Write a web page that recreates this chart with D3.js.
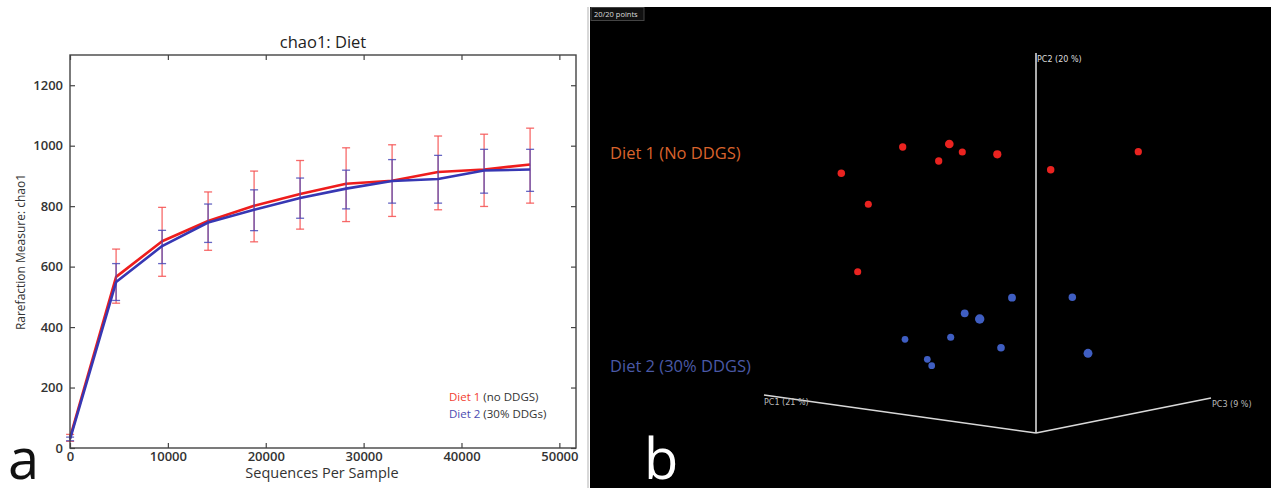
<!DOCTYPE html>
<html><head><meta charset="utf-8">
<script src="https://cdn.jsdelivr.net/npm/d3@7"></script>
<style>body{margin:0;background:#fff}svg{display:block}</style>
</head><body>
<svg id="c" width="1271" height="488"></svg>
<script>
// ---- Panel a: rarefaction (chao1) ----
const seqPerSample = [10, 4710, 9410, 14110, 18810, 23510, 28210, 32910, 37610, 42310, 47010];
const diet1Mean  = [35, 566, 684, 751, 801, 840, 874, 884, 913, 921, 938];
const diet1Upper = [45, 658, 796, 847, 916, 951, 993, 1003, 1032, 1038, 1058];
const diet1Lower = [22, 479, 568, 654, 682, 724, 749, 766, 788, 799, 810];
const diet2Mean  = [30, 549, 668, 746, 788, 827, 858, 883, 890, 918, 921];
const diet2Upper = [36, 610, 720, 807, 854, 893, 919, 954, 968, 988, 988];
const diet2Lower = [24, 488, 610, 680, 719, 760, 791, 810, 810, 843, 849];
const xTicks = [0, 10000, 20000, 30000, 40000, 50000];
const yTicks = [0, 200, 400, 600, 800, 1000, 1200];
const legendNames = ["Diet 1", "Diet 2"];
const legendNotes = [" (no DDGS)", " (30% DDGs)"];

// ---- Panel b: PCoA (projected screen units) ----
const diet1PCx = [-1.333, -1.947, -1.677, -0.867, -0.737, -0.973, -0.387, 0.147, 1.023, -1.783];
const diet1PCy = [2.86, 2.597, 2.287, 2.89, 2.81, 2.72, 2.787, 2.633, 2.813, 1.613];
const diet1Depth = [0.35, 0.4, 0.3, 0.75, 0.3, 0.35, 0.6, 0.4, 0.35, 0.3];
const diet2PCx = [-1.31, -1.087, -1.043, -0.853, -0.713, -0.563, -0.35, -0.24, 0.363, 0.52];
const diet2PCy = [0.937, 0.737, 0.673, 0.957, 1.197, 1.14, 0.853, 1.353, 1.357, 0.797];
const diet2Depth = [0.2, 0.2, 0.2, 0.3, 0.5, 0.95, 0.45, 0.5, 0.4, 0.8];
const pcAxisNames = ["PC1 (21 %)", "PC2 (20 %)", "PC3 (9 %)"];
const pcAxisEndX = [-2.72, 0, 1.75];
const pcAxisEndY = [0.38, 3.80, 0.35];
const groupLabels = ["Diet 1 (No DDGS)", "Diet 2 (30% DDGS)"];
const groupLabelY = [2.80, 0.67];

const svg = d3.select("#c");

// ===== Panel a =====
const L = {left: 70, right: 576, top: 55, bottom: 448};
const x = d3.scaleLinear().domain([0, 51700]).range([L.left, L.right]);
const y = d3.scaleLinear().domain([0, 1300]).range([L.bottom, L.top]);
const ga = svg.append("g");

ga.append("rect").attr("x", L.left).attr("y", L.top)
  .attr("width", L.right - L.left).attr("height", L.bottom - L.top)
  .attr("fill", "#fff");

const fontA = "'Open Sans', sans-serif";
function styleAxis(g, hideLabels) {
  g.select(".domain").remove();
  g.selectAll(".tick line").attr("stroke", "#444").attr("stroke-width", 1.2);
  g.selectAll(".tick text").attr("fill", "#333").attr("font-family", fontA)
    .attr("font-size", 13).attr("font-weight", 600);
  if (hideLabels) g.selectAll(".tick text").remove();
}
ga.append("g").attr("transform", `translate(0,${L.bottom})`)
  .call(d3.axisBottom(x).tickValues(xTicks).tickFormat(d3.format("d")).tickSizeInner(-5).tickPadding(4))
  .call(g => styleAxis(g, false));
ga.append("g").attr("transform", `translate(0,${L.top})`)
  .call(d3.axisTop(x).tickValues(xTicks).tickSizeInner(-5))
  .call(g => styleAxis(g, true));
ga.append("g").attr("transform", `translate(${L.left},0)`)
  .call(d3.axisLeft(y).tickValues(yTicks).tickFormat(d3.format("d")).tickSizeInner(-5).tickPadding(7))
  .call(g => styleAxis(g, false));
ga.append("g").attr("transform", `translate(${L.right},0)`)
  .call(d3.axisRight(y).tickValues(yTicks).tickSizeInner(-5))
  .call(g => styleAxis(g, true));

function series(mean, lo, hi, lineColor, errColor) {
  const pts = seqPerSample.map((s, i) => ({s, m: mean[i], lo: lo[i], hi: hi[i]}));
  const eg = ga.append("g").attr("stroke", errColor).attr("stroke-width", 1.3).attr("fill", "none");
  pts.forEach(p => {
    eg.append("line").attr("x1", x(p.s)).attr("x2", x(p.s)).attr("y1", y(p.lo)).attr("y2", y(p.hi));
    eg.append("line").attr("x1", x(p.s) - 4).attr("x2", x(p.s) + 4).attr("y1", y(p.lo)).attr("y2", y(p.lo));
    eg.append("line").attr("x1", x(p.s) - 4).attr("x2", x(p.s) + 4).attr("y1", y(p.hi)).attr("y2", y(p.hi));
  });
  ga.append("path").datum(pts)
    .attr("d", d3.line().x(p => x(p.s)).y(p => y(p.m)))
    .attr("fill", "none").attr("stroke", lineColor).attr("stroke-width", 2.6)
    .attr("stroke-linejoin", "round");
}
series(diet1Mean, diet1Lower, diet1Upper, "#ee1d1d", "rgba(245,80,80,0.85)");
series(diet2Mean, diet2Lower, diet2Upper, "#3737b3", "rgba(75,75,185,0.85)");

ga.append("rect").attr("x", L.left).attr("y", L.top)
  .attr("width", L.right - L.left).attr("height", L.bottom - L.top)
  .attr("fill", "none").attr("stroke", "#444").attr("stroke-width", 1.4);

ga.append("text").attr("x", (L.left + L.right) / 2).attr("y", 48)
  .attr("text-anchor", "middle").attr("font-family", fontA).attr("font-size", 16.5)
  .attr("fill", "#222").text("chao1: Diet");
ga.append("text").attr("transform", `translate(25,252) rotate(-90)`)
  .attr("text-anchor", "middle").attr("font-family", fontA).attr("font-size", 12)
  .attr("fill", "#333").text("Rarefaction Measure: chao1");
ga.append("text").attr("x", 322).attr("y", 478)
  .attr("text-anchor", "middle").attr("font-family", fontA).attr("font-size", 14.5)
  .attr("fill", "#333").text("Sequences Per Sample");

const legColors = ["#f2402f", "#4b4bb0"];
legendNames.forEach((n, i) => {
  const t = ga.append("text").attr("x", 449).attr("y", 401 + i * 16.5)
    .attr("font-family", fontA).attr("font-size", 11.5);
  t.append("tspan").attr("fill", legColors[i]).text(n);
  t.append("tspan").attr("fill", "#333").text(legendNotes[i]);
});
ga.append("text").attr("x", 8).attr("y", 479).attr("font-family", fontA)
  .attr("font-size", 56).attr("fill", "#111").text("a");

// ===== Panel b =====
svg.append("line").attr("x1", 588).attr("x2", 588).attr("y1", 7).attr("y2", 488)
  .attr("stroke", "#ccc").attr("stroke-width", 1.5);
svg.append("rect").attr("x", 590).attr("y", 7).attr("width", 681).attr("height", 481).attr("fill", "#000");

const px = d3.scaleLinear().domain([-3, 2]).range([736, 1236]);
const py = d3.scaleLinear().domain([0, 4]).range([433, 33]);
const pr = d3.scaleLinear().domain([0, 1]).range([3.0, 4.8]);
const gb = svg.append("g");

// PC axes
pcAxisNames.forEach((n, i) => {
  gb.append("line").attr("x1", px(0)).attr("y1", py(0))
    .attr("x2", px(pcAxisEndX[i])).attr("y2", py(pcAxisEndY[i]))
    .attr("stroke", "#d8d8d8").attr("stroke-width", 1.6);
});
gb.append("text").attr("x", px(pcAxisEndX[0])).attr("y", py(pcAxisEndY[0]) + 10)
  .attr("font-family", "'DejaVu Sans', sans-serif").attr("font-size", 8).attr("fill", "#bbb").text(pcAxisNames[0]);
gb.append("text").attr("x", px(pcAxisEndX[1]) + 1).attr("y", py(pcAxisEndY[1]) + 9)
  .attr("font-family", "'DejaVu Sans', sans-serif").attr("font-size", 8).attr("fill", "#ddd").text(pcAxisNames[1]);
gb.append("text").attr("x", px(pcAxisEndX[2]) + 1).attr("y", py(pcAxisEndY[2]) + 9)
  .attr("font-family", "'DejaVu Sans', sans-serif").attr("font-size", 8).attr("fill", "#bbb").text(pcAxisNames[2]);

function pts(xs, ys, ds, color) {
  gb.append("g").selectAll("circle").data(xs.map((v, i) => [v, ys[i], ds[i]])).join("circle")
    .attr("cx", d => px(d[0])).attr("cy", d => py(d[1])).attr("r", d => pr(d[2]))
    .attr("fill", color);
}
pts(diet1PCx, diet1PCy, diet1Depth, "#ea2320");
pts(diet2PCx, diet2PCy, diet2Depth, "#3f5ec2");

const groupColors = ["#d9632c", "#4a59a6"];
groupLabels.forEach((g, i) => {
  gb.append("text").attr("x", 610).attr("y", py(groupLabelY[i]) + 6)
    .attr("font-family", fontA).attr("font-size", 16.5).attr("fill", groupColors[i]).text(g);
});

// "20/20 points" badge
gb.append("rect").attr("x", 591).attr("y", 7.5).attr("width", 53).attr("height", 13)
  .attr("fill", "#111").attr("stroke", "#444").attr("stroke-width", 1);
gb.append("text").attr("x", 594).attr("y", 17).attr("font-family", fontA)
  .attr("font-size", 7.5).attr("fill", "#ddd").text("20/20 points");

gb.append("text").attr("x", 644).attr("y", 479).attr("font-family", fontA)
  .attr("font-size", 56).attr("fill", "#fff").text("b");
</script>
</body></html>
